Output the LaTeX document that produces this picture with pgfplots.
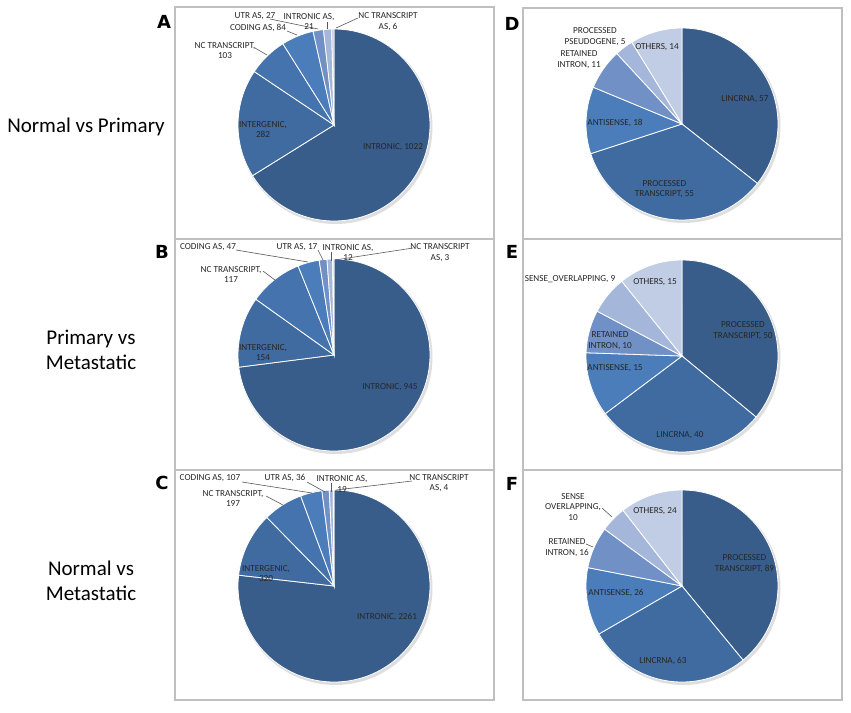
\documentclass[border=0pt]{standalone}
\usepackage{fontspec}
\setmainfont{Carlito}
\newfontfamily\letterfont{DejaVu Sans}
\usepackage{pgfplots}
\pgfplotsset{compat=1.18}

% blue shades, darkest first
\definecolor{s1}{HTML}{385D8A}
\definecolor{s2}{HTML}{3F6BA0}
\definecolor{s3}{HTML}{4473AD}
\definecolor{s4}{HTML}{4A7DBA}
\definecolor{s5}{HTML}{7191C6}
\definecolor{s6}{HTML}{A4B6D9}
\definecolor{s7}{HTML}{C1CDE4}

% wedges clockwise from 12 o'clock, radius 96pt (1 axis unit = 1pt)
\newcommand\pie[1]{%
  \gdef\tot{0}%
  \foreach \v/\c in {#1}{\pgfmathsetmacro\t{\tot+\v}\xdef\tot{\t}}%
  \gdef\ang{90}%
  \fill[black!13] (axis cs:1.5,-2) circle[radius=97pt];
  \foreach \v/\c in {#1}{%
    \pgfmathsetmacro\pe{\ang-360*(\v/\tot)}%
    \edef\temp{\noexpand\filldraw[fill=\c,draw=white,line width=0.8pt]
      (axis cs:0,0) -- ++(\ang:96pt) arc[start angle=\ang,end angle=\pe,radius=96pt] -- cycle;}%
    \temp
    \xdef\ang{\pe}%
  }%
}

\pgfplotsset{panel/.style={x=1pt,y=1pt,anchor=north west,enlargelimits=false,
  xtick=\empty,ytick=\empty,clip=false,
  axis line style={draw=black!25,line width=1.1pt}}}
\tikzset{lab/.style={font=\fontsize{9.2}{10.5}\selectfont,text=black!85,align=center,inner sep=0pt},
  lead/.style={draw=black!65,line width=0.6pt},
  side/.style={font=\fontsize{21}{25}\selectfont,align=center},
  letter/.style={font=\letterfont\bfseries\fontsize{18}{18}\selectfont}}

\begin{document}
\begin{tikzpicture}
\path (0,0) rectangle (851pt,-712pt);

% ---- A: Normal vs Primary, genomic location
\begin{axis}[panel,at={(175pt,-7pt)},xmin=-159,xmax=160,ymin=-114,ymax=118]
\pie{1022/s1,282/s2,103/s3,84/s4,27/s5,21/s6,6/s7}
\node[lab] at (axis cs:59,-22) {INTRONIC, 1022};
\node[lab] at (axis cs:-71,-4.5) {INTERGENIC,\\282};
\node[lab] at (axis cs:-109,74.5) {NC TRANSCRIPT,\\103};
\draw[lead] (axis cs:-79,77) -- (axis cs:-67,70);
\node[lab] at (axis cs:-76,97) {CODING AS, 84};
\draw[lead] (axis cs:-47,94) -- (axis cs:-37,90);
\node[lab] at (axis cs:-79,109) {UTR AS, 27};
\draw[lead] (axis cs:-64,106) -- (axis cs:-16,96);
\node[lab] at (axis cs:-25,103.5) {INTRONIC AS,\\21};
\draw[lead] (axis cs:-7,103) -- (axis cs:-7,96);
\node[lab] at (axis cs:54,103.5) {NC TRANSCRIPT\\AS, 6};
\draw[lead] (axis cs:24,107) -- (axis cs:2,97);
\end{axis}

% ---- B: Primary vs Metastatic
\begin{axis}[panel,at={(175pt,-239pt)},xmin=-159,xmax=160,ymin=-115,ymax=116]
\pie{945/s1,154/s2,117/s3,47/s4,17/s5,12/s6,3/s7}
\node[lab] at (axis cs:56,-32) {INTRONIC, 945};
\node[lab] at (axis cs:-71,2.5) {INTERGENIC,\\154};
\node[lab] at (axis cs:-103,80.5) {NC TRANSCRIPT,\\117};
\draw[lead] (axis cs:-71,84) -- (axis cs:-59,75);
\node[lab] at (axis cs:-126,108) {CODING AS, 47};
\draw[lead] (axis cs:-98,105) -- (axis cs:-26,93);
\node[lab] at (axis cs:-37,108) {UTR AS, 17};
\draw[lead] (axis cs:-16,105) -- (axis cs:-11,95);
\node[lab] at (axis cs:14,102.5) {INTRONIC AS,\\12};
\draw[lead] (axis cs:-3,103) -- (axis cs:-3,94);
\node[lab] at (axis cs:106,102.5) {NC TRANSCRIPT\\AS, 3};
\draw[lead] (axis cs:79,107) -- (axis cs:1,95);
\end{axis}

% ---- C: Normal vs Metastatic
\begin{axis}[panel,at={(175pt,-470pt)},xmin=-159,xmax=160,ymin=-114,ymax=116]
\pie{2261/s1,320/s2,197/s3,107/s4,36/s5,19/s6,4/s7}
\node[lab] at (axis cs:53,-31) {INTRONIC, 2261};
\node[lab] at (axis cs:-68,12.5) {INTERGENIC,\\320};
\node[lab] at (axis cs:-101,87.5) {NC TRANSCRIPT,\\197};
\draw[lead] (axis cs:-68,90) -- (axis cs:-51,81);
\node[lab] at (axis cs:-124,108) {CODING AS, 107};
\draw[lead] (axis cs:-92,104) -- (axis cs:-22,93);
\node[lab] at (axis cs:-49,108) {UTR AS, 36};
\draw[lead] (axis cs:-27,104) -- (axis cs:-9,94);
\node[lab] at (axis cs:8,102) {INTRONIC AS,\\19};
\draw[lead] (axis cs:-3,103) -- (axis cs:-3,94);
\node[lab] at (axis cs:105,103) {NC TRANSCRIPT\\AS, 4};
\draw[lead] (axis cs:78,105) -- (axis cs:2,96);
\end{axis}

% ---- D
\begin{axis}[panel,at={(523pt,-8pt)},xmin=-159,xmax=160,ymin=-115,ymax=116]
\pie{57/s1,55/s2,18/s4,11/s5,5/s6,14/s7}
\node[lab] at (axis cs:63,25) {LINCRNA, 57};
\node[lab] at (axis cs:-17.5,-65) {PROCESSED\\TRANSCRIPT, 55};
\node[lab] at (axis cs:-67,1) {ANTISENSE, 18};
\node[lab] at (axis cs:-103,64.5) {RETAINED\\INTRON, 11};
\node[lab] at (axis cs:-87,87.5) {PROCESSED\\PSEUDOGENE, 5};
\node[lab] at (axis cs:-25,77) {OTHERS, 14};
\end{axis}

% ---- E
\begin{axis}[panel,at={(523pt,-239pt)},xmin=-159,xmax=160,ymin=-114,ymax=117]
\pie{50/s1,40/s2,15/s4,10/s5,9/s6,15/s7}
\node[lab] at (axis cs:61,25.5) {PROCESSED\\TRANSCRIPT, 50};
\node[lab] at (axis cs:-2,-79) {LINCRNA, 40};
\node[lab] at (axis cs:-67,-12) {ANTISENSE, 15};
\node[lab] at (axis cs:-72,15.5) {RETAINED\\INTRON, 10};
\node[lab] at (axis cs:-112,77) {SENSE\_OVERLAPPING, 9};
\node[lab] at (axis cs:-27,74) {OTHERS, 15};
\end{axis}

% ---- F
\begin{axis}[panel,at={(523pt,-470pt)},xmin=-159,xmax=160,ymin=-114,ymax=116]
\pie{89/s1,63/s2,26/s4,16/s5,10/s6,24/s7}
\node[lab] at (axis cs:62.5,22.5) {PROCESSED\\TRANSCRIPT, 89};
\node[lab] at (axis cs:-19,-75) {LINCRNA, 63};
\node[lab] at (axis cs:-66,-7) {ANTISENSE, 26};
\node[lab] at (axis cs:-115,38.5) {RETAINED\\INTRON, 16};
\draw[lead] (axis cs:-96,42) -- (axis cs:-89,39);
\node[lab] at (axis cs:-109,79) {SENSE\\OVERLAPPING,\\10};
\draw[lead] (axis cs:-80,78) -- (axis cs:-70,69);
\node[lab] at (axis cs:-27,75) {OTHERS, 24};
\end{axis}

% row titles and panel letters
\node[side] at (86pt,-127pt) {Normal vs Primary};
\node[side] at (91pt,-350pt) {Primary vs\\Metastatic};
\node[side] at (91pt,-581pt) {Normal vs\\Metastatic};
\node[letter] at (164pt,-21.5pt) {A};
\node[letter] at (162pt,-252pt) {B};
\node[letter] at (162pt,-483pt) {C};
\node[letter] at (512pt,-24pt) {D};
\node[letter] at (512pt,-252pt) {E};
\node[letter] at (512pt,-484pt) {F};
\end{tikzpicture}
\end{document}
